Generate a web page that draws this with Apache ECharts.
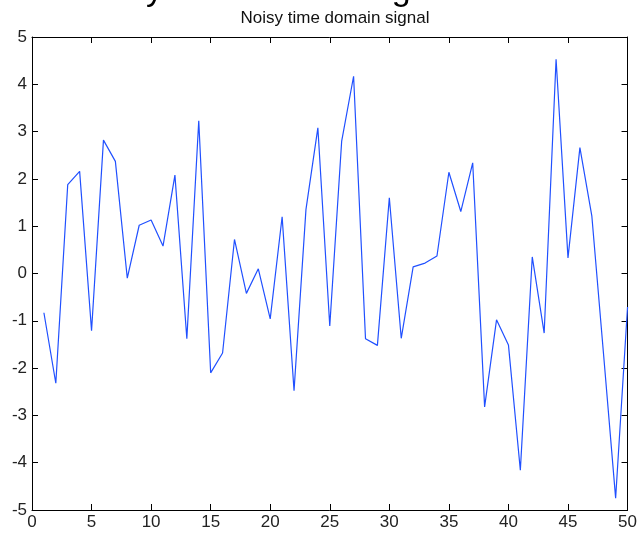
<!DOCTYPE html>
<html>
<head>
<meta charset="utf-8">
<script src="https://cdn.jsdelivr.net/npm/echarts@6/dist/echarts.min.js"></script>
<style>
html, body { margin: 0; padding: 0; background: #fff; }
#main { width: 640px; height: 533px; }
</style>
</head>
<body>
<div id="main"></div>
<script>
// sample index and noisy signal values
var samples = [1, 2, 3, 4, 5, 6, 7, 8, 9, 10,
    11, 12, 13, 14, 15, 16, 17, 18, 19, 20,
    21, 22, 23, 24, 25, 26, 27, 28, 29, 30,
    31, 32, 33, 34, 35, 36, 37, 38, 39, 40,
    41, 42, 43, 44, 45, 46, 47, 48, 49, 50];
var signal = [-0.83, -2.32, 1.88, 2.16, -1.21, 2.82, 2.37, -0.1, 1.02, 1.13,
    0.58, 2.08, -1.38, 3.23, -2.1, -1.68, 0.72, -0.42, 0.1, -0.96,
    1.2, -2.48, 1.35, 3.08, -1.11, 2.8, 4.17, -1.38, -1.52, 1.6,
    -1.37, 0.14, 0.22, 0.37, 2.14, 1.31, 2.34, -2.82, -0.98, -1.51,
    -4.16, 0.35, -1.26, 4.53, 0.33, 2.66, 1.22, -1.75, -4.75, -0.71];
var xTicks = { min: 0, max: 50, step: 5 };
var yTicks = { min: -5, max: 5, step: 1 };

var chart = echarts.init(document.getElementById('main'));

var points = [];
for (var i = 0; i < samples.length; i++) {
    points.push([samples[i], signal[i]]);
}

var labelFont = {
    color: '#222',
    fontSize: 17,
    fontFamily: 'Liberation Sans'
};
// box lines stay on the plot edges (no onZero)
var axisLine = { onZero: false, lineStyle: { color: '#000', width: 1 } };
var tick = { inside: true, length: 6, lineStyle: { color: '#000' } };

var option = {
    backgroundColor: '#fff',
    animation: false,
    title: {
        text: 'Noisy time domain signal',
        left: 330,
        textAlign: 'center',
        top: 5,
        textStyle: {
            color: '#111',
            fontSize: 17,
            fontWeight: 'normal',
            fontFamily: 'Liberation Sans'
        }
    },
    // bottom of a larger heading cut off by the top edge
    graphic: [{
        type: 'text',
        left: 78,
        top: -26,
        silent: true,
        style: {
            text: 'Noisy time domain signal',
            fill: '#000',
            font: '34px Liberation Sans'
        }
    }],
    grid: {
        left: 32,
        right: 7,
        top: 37,
        bottom: 23
    },
    xAxis: [{
        type: 'value',
        position: 'bottom',
        min: xTicks.min,
        max: xTicks.max,
        interval: xTicks.step,
        axisLine: axisLine,
        axisTick: tick,
        splitLine: { show: false },
        axisLabel: Object.assign({ margin: 4 }, labelFont)
    }, {
        type: 'value',
        position: 'top',
        min: xTicks.min,
        max: xTicks.max,
        interval: xTicks.step,
        axisLine: axisLine,
        axisTick: tick,
        splitLine: { show: false },
        axisLabel: { show: false }
    }],
    yAxis: [{
        type: 'value',
        position: 'left',
        min: yTicks.min,
        max: yTicks.max,
        interval: yTicks.step,
        axisLine: axisLine,
        axisTick: tick,
        splitLine: { show: false },
        axisLabel: Object.assign({ margin: 5 }, labelFont)
    }, {
        type: 'value',
        position: 'right',
        min: yTicks.min,
        max: yTicks.max,
        interval: yTicks.step,
        axisLine: axisLine,
        axisTick: tick,
        splitLine: { show: false },
        axisLabel: { show: false }
    }],
    series: [{
        type: 'line',
        data: points,
        symbol: 'none',
        lineStyle: { color: '#2050ff', width: 1.2 }
    }]
};

chart.setOption(option);
</script>
</body>
</html>
